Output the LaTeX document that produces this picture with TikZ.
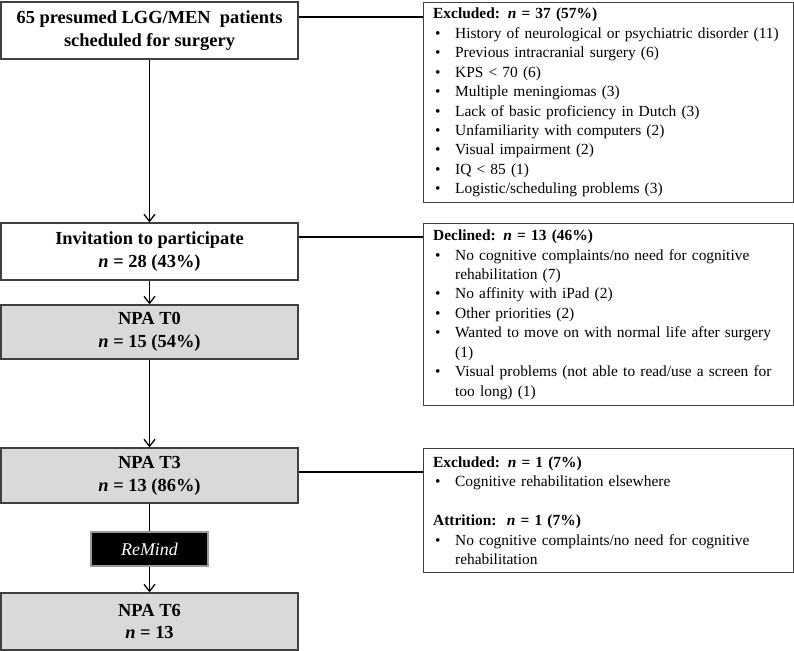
\documentclass[tikz,border=0pt]{standalone}
\usepackage{fontspec}
\setmainfont{Liberation Serif}
\usepackage{tikz}
\usetikzlibrary{arrows.meta}
\tikzstyle{stage}=[rectangle,draw=black!75,inner sep=0mm,minimum width=297bp,align=center,font=\fontsize{18.5}{23}\selectfont\bfseries]
\tikzstyle{npa}=[stage,fill=black!15]
\tikzstyle{note}=[rectangle,draw=black!75,anchor=north west,text width=350bp,inner xsep=10bp,inner ysep=0mm,font=\fontsize{15.5}{19.5}\selectfont]
\tikzstyle{remind}=[rectangle,draw=black!40,fill=black,text=white,inner sep=0mm,minimum width=117bp,minimum height=34bp,font=\fontsize{18}{20}\selectfont\itshape]
\tikzstyle{arrow}=[->,>={Straight Barb[length=7bp,width=11bp]}]
\tikzset{every picture/.style={
    line width=1.3bp
  }
}
\newcommand\bitem[1]{\par\hangindent=22bp\hangafter=1\noindent\hbox to 22bp{\hspace{2bp}\textbullet\hfil}#1}
\newcommand\nsym{\textbf{\textit{n}}}

\begin{document}
\begin{tikzpicture}[x=1bp,y=-1bp]
      \useasboundingbox (0,0) rectangle (794,651);
      \node[stage,minimum height=57bp] at (149.5,30.5) (screen) {65 presumed LGG/MEN\ \ patients\\scheduled for surgery};
      \node[stage,minimum height=57bp] at (149.5,251.5) (invite) {Invitation to participate\\\nsym{} = 28 (43\%)};
      \node[npa,minimum height=54bp] at (149.5,332) (tzero) {NPA T0\\\nsym{} = 15 (54\%)};
      \node[npa,minimum height=55bp] at (149.5,475.5) (tthree) {NPA T3\\\nsym{} = 13 (86\%)};
      \node[remind] at (149.5,549) (remind) {ReMind};
      \node[npa,minimum height=57bp] at (149.5,621.5) (tsix) {NPA T6\\\nsym{} = 13};
      \node[note,minimum height=200bp] at (422.5,2) (excl) {\raggedright
        \textbf{Excluded: \textit{n} = 37 (57\%)}
        \bitem{History of neurological or psychiatric disorder (11)}
        \bitem{Previous intracranial surgery (6)}
        \bitem{KPS < 70 (6)}
        \bitem{Multiple meningiomas (3)}
        \bitem{Lack of basic proficiency in Dutch (3)}
        \bitem{Unfamiliarity with computers (2)}
        \bitem{Visual impairment (2)}
        \bitem{IQ < 85 (1)}
        \bitem{Logistic/scheduling problems (3)}\par};
      \node[note,minimum height=182bp] at (422.5,223) (decl) {\raggedright
        \textbf{Declined: \textit{n} = 13 (46\%)}
        \bitem{No cognitive complaints/no need for cognitive\newline rehabilitation (7)}
        \bitem{No affinity with iPad (2)}
        \bitem{Other priorities (2)}
        \bitem{Wanted to move on with normal life after surgery\newline (1)}
        \bitem{Visual problems (not able to read/use a screen for\newline too long) (1)}\par};
      \node[note,minimum height=124bp] at (422.5,448) (drop) {\raggedright
        \textbf{Excluded: \textit{n} = 1 (7\%)}
        \bitem{Cognitive rehabilitation elsewhere}
        \par\vspace{19.5bp}\noindent
        \textbf{Attrition:\ \ \textit{n} = 1 (7\%)}
        \bitem{No cognitive complaints/no need for cognitive\newline rehabilitation}\par};
      \draw[arrow] (screen) -- (invite);
      \draw[arrow] (invite) -- (tzero);
      \draw[arrow] (tzero) -- (tthree);
      \draw (tthree) -- (remind);
      \draw[arrow] (remind) -- (tsix);
      \draw ([yshift=13.5bp]screen.east) -- ([yshift=13.5bp]screen.east -| excl.west);
      \draw ([yshift=14.5bp]invite.east) -- ([yshift=14.5bp]invite.east -| decl.west);
      \draw ([yshift=3.5bp]tthree.east) -- ([yshift=3.5bp]tthree.east -| drop.west);
    \end{tikzpicture}
\end{document}
